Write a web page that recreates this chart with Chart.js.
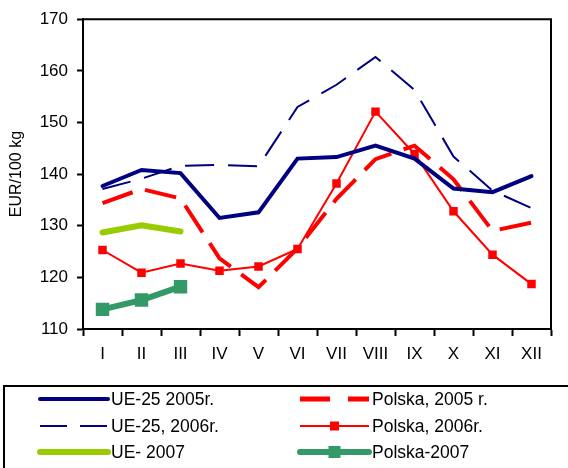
<!DOCTYPE html>
<html>
<head>
<meta charset="utf-8">
<script src="https://cdn.jsdelivr.net/npm/chart.js@4/dist/chart.umd.min.js"></script>
<style>
  body { margin: 0; background: #fff; }
  #wrap { width: 568px; height: 468px; }
</style>
</head>
<body>
<div id="wrap"><canvas id="priceChart"></canvas></div>
<script>
// Ceny skupu - EUR/100 kg, miesiące I-XII
const months = ['I', 'II', 'III', 'IV', 'V', 'VI', 'VII', 'VIII', 'IX', 'X', 'XI', 'XII'];
const ue2005 = [137.7, 140.8, 140.2, 131.5, 132.6, 143.0, 143.3, 145.5, 143.0, 137.2, 136.5, 139.6];
const ue2006 = [137.1, 139.1, 141.6, 141.8, 141.5, 153.0, 157.3, 162.7, 156.3, 143.4, 136.8, 133.4];
const ue2007 = [128.7, 130.1, 128.9];
const pl2005 = [134.4, 137.1, 135.3, 123.7, 118.1, 125.6, 135.2, 142.9, 145.5, 139.0, 129.0, 130.6];
const pl2006 = [125.3, 120.9, 122.7, 121.3, 122.1, 125.5, 138.2, 152.1, 143.9, 132.8, 124.4, 118.7];
const pl2007 = [113.8, 115.6, 118.2];
const yTicks = [110, 120, 130, 140, 150, 160, 170];

const NAVY = '#000080';
const RED = '#ff0000';
const LIME = '#99cc00';
const GREEN = '#339966';
const FONT = '"Liberation Sans", Arial, sans-serif';

// ramka wykresu (góra/prawo) i legenda w dwóch kolumnach
const frameAndLegend = {
    id: 'frameAndLegend',
    afterDraw(chart) {
        const { ctx, chartArea: a } = chart;
        ctx.save();
        ctx.strokeStyle = '#000';
        ctx.lineWidth = 2;
        ctx.beginPath();
        ctx.moveTo(a.left, a.top);
        ctx.lineTo(a.right, a.top);
        ctx.lineTo(a.right, a.bottom);
        ctx.stroke();

        ctx.lineWidth = 2;
        ctx.strokeRect(4, 386, 580, 120);

        const cols = [{ x0: 40, x1: 108, tx: 111 }, { x0: 300, x1: 369, tx: 372 }];
        const rows = [399, 426, 452];
        ctx.font = '17.5px ' + FONT;
        ctx.textBaseline = 'middle';
        ctx.fillStyle = '#000';
        chart.data.datasets.forEach((ds, i) => {
            const c = cols[Math.floor(i / 3)];
            const y = rows[i % 3];
            ctx.save();
            ctx.strokeStyle = ds.borderColor;
            ctx.lineWidth = ds.legendWidth || ds.borderWidth;
            ctx.lineCap = ds.borderCapStyle || 'butt';
            ctx.setLineDash(ds.legendDash || []);
            ctx.beginPath();
            ctx.moveTo(c.x0, y);
            ctx.lineTo(c.x1, y);
            ctx.stroke();
            if (ds.pointRadius) {
                const s = ds.legendMarker;
                ctx.fillStyle = ds.pointBackgroundColor;
                ctx.fillRect((c.x0 + c.x1) / 2 - s / 2, y - s / 2, s, s);
            }
            ctx.restore();
            ctx.fillText(ds.label, c.tx, y + 1);
        });
        ctx.restore();
    }
};

const ctx = document.getElementById('priceChart').getContext('2d');
new Chart(ctx, {
    type: 'line',
    data: {
        labels: months,
        datasets: [
            { label: 'UE-25 2005r.', data: ue2005, borderColor: NAVY, borderWidth: 4,
              pointRadius: 0, borderCapStyle: 'round', legendWidth: 4 },
            { label: 'UE-25, 2006r.', data: ue2006, borderColor: NAVY, borderWidth: 2,
              borderDash: [29, 14], pointRadius: 0, legendDash: [27, 13] },
            { label: 'UE- 2007', data: ue2007, borderColor: LIME, borderWidth: 6,
              pointRadius: 0, borderCapStyle: 'round', legendWidth: 6 },
            { label: 'Polska, 2005 r.', data: pl2005, borderColor: RED, borderWidth: 4,
              borderDash: [32, 13], pointRadius: 0, legendDash: [30, 18], legendWidth: 5 },
            { label: 'Polska, 2006r.', data: pl2006, borderColor: RED, borderWidth: 2,
              pointStyle: 'rect', pointRadius: 6, pointBorderWidth: 0,
              pointBackgroundColor: RED, legendMarker: 9 },
            { label: 'Polska-2007', data: pl2007, borderColor: GREEN, borderWidth: 6,
              pointStyle: 'rect', pointRadius: 9.5, pointBorderWidth: 0,
              pointBackgroundColor: GREEN, borderCapStyle: 'round', legendWidth: 6, legendMarker: 12 }
        ]
    },
    options: {
        responsive: true,
        maintainAspectRatio: false,
        animation: false,
        layout: { padding: { left: 0, top: 19, right: 17, bottom: 99 } },
        elements: { line: { tension: 0 } },
        plugins: { legend: { display: false }, tooltip: { enabled: false } },
        scales: {
            x: {
                type: 'category',
                offset: true,
                grid: { offset: true, drawOnChartArea: false, tickLength: 7, tickWidth: 2, color: '#000' },
                border: { color: '#000', width: 2 },
                ticks: { color: '#000', font: { family: FONT, size: 17 }, padding: 8, maxRotation: 0 },
                afterFit(scale) { scale.height = 40; }
            },
            y: {
                min: 110,
                max: 170,
                afterBuildTicks(scale) { scale.ticks = yTicks.map(v => ({ value: v })); },
                grid: { drawOnChartArea: false, tickLength: 6, tickWidth: 2, color: '#000' },
                border: { color: '#000', width: 2 },
                ticks: { color: '#000', font: { family: FONT, size: 17 }, padding: 9 },
                title: { display: true, text: 'EUR/100 kg', color: '#000',
                         font: { family: FONT, size: 16 }, padding: { top: 7, bottom: 0 } },
                afterFit(scale) { scale.width = 83; }
            }
        }
    },
    plugins: [frameAndLegend]
});
</script>
</body>
</html>
